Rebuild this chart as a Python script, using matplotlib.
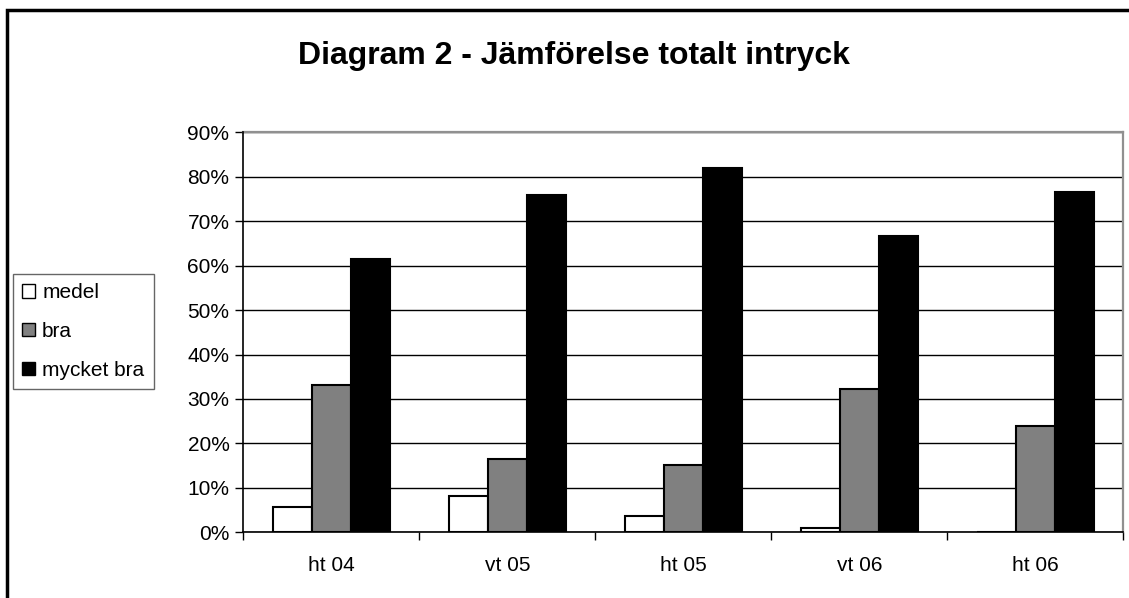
import matplotlib
matplotlib.use('Agg')
import matplotlib.pyplot as plt
import matplotlib.patches as patches
import numpy as np

categories = ['ht 04', 'vt 05', 'ht 05', 'vt 06', 'ht 06']
medel = [0.056, 0.082, 0.037, 0.009, 0.0]
bra = [0.332, 0.164, 0.151, 0.323, 0.240]
mycket_bra = [0.615, 0.760, 0.820, 0.666, 0.765]
series = ['medel', 'bra', 'mycket bra']
colors = ['white', '#808080', 'black']

plt.rcParams['font.family'] = ['Liberation Sans', 'DejaVu Sans']

W, H = 1129, 598
fig = plt.figure(figsize=(W / 100, H / 100), dpi=100)
ax = fig.add_axes([243.3 / W, 1 - 532.3 / H, 880 / W, 400 / H])

x = np.arange(len(categories)) + 0.5
w = 1 / 4.5
for i, (vals, col) in enumerate(zip([medel, bra, mycket_bra], colors)):
    ax.bar(x + (i - 1) * w, vals, w, color=col, edgecolor='black',
           linewidth=1.5, label=series[i], zorder=3)

ax.set_xlim(0, len(categories))
ax.set_ylim(0, 0.9)
ax.set_yticks(np.arange(0, 0.91, 0.1))
ax.set_yticklabels(['%d%%' % round(v * 100) for v in np.arange(0, 0.91, 0.1)])
ax.set_xticks(np.arange(0, len(categories) + 1))
ax.set_xticklabels([])
ax.set_xticks(x, minor=True)
ax.set_xticklabels(categories, minor=True)
ax.tick_params(axis='x', which='minor', length=0, pad=17, labelsize=15)
ax.tick_params(axis='x', which='major', length=6, width=1, color='black')
ax.tick_params(axis='y', length=6, width=1, pad=4, labelsize=15)
ax.yaxis.grid(True, color='black', linewidth=1, zorder=1)
ax.set_axisbelow(True)

for s in ['top', 'right']:
    ax.spines[s].set_color('#909090')
    ax.spines[s].set_linewidth(1.6)
for s in ['left', 'bottom']:
    ax.spines[s].set_color('black')
    ax.spines[s].set_linewidth(1.2)
    ax.spines[s].set_zorder(4)

fig.text(574 / W, 1 - 56 / H, 'Diagram 2 - Jämförelse totalt intryck',
         ha='center', va='center', fontsize=23, fontweight='bold')

handles = [patches.Rectangle((0, 0), 1, 1, facecolor=c, edgecolor='black', linewidth=1)
           for c in colors]
leg = fig.legend(handles, series, loc='upper left',
                 bbox_to_anchor=(13 / W, 1 - 274 / H), fontsize=15,
                 frameon=True, fancybox=False, edgecolor='#404040',
                 handlelength=0.6, handleheight=0.6, handletextpad=0.35,
                 labelspacing=0.95, borderpad=0.45, borderaxespad=0)
leg.get_frame().set_linewidth(1)

# outer chart frame
fig.patches.append(patches.Rectangle((7 / W, -0.1), 1.2, 1 - 10 / H + 0.1,
                                     transform=fig.transFigure, fill=False,
                                     edgecolor='black', linewidth=2.5))

fig.savefig('out.png', dpi=100)
